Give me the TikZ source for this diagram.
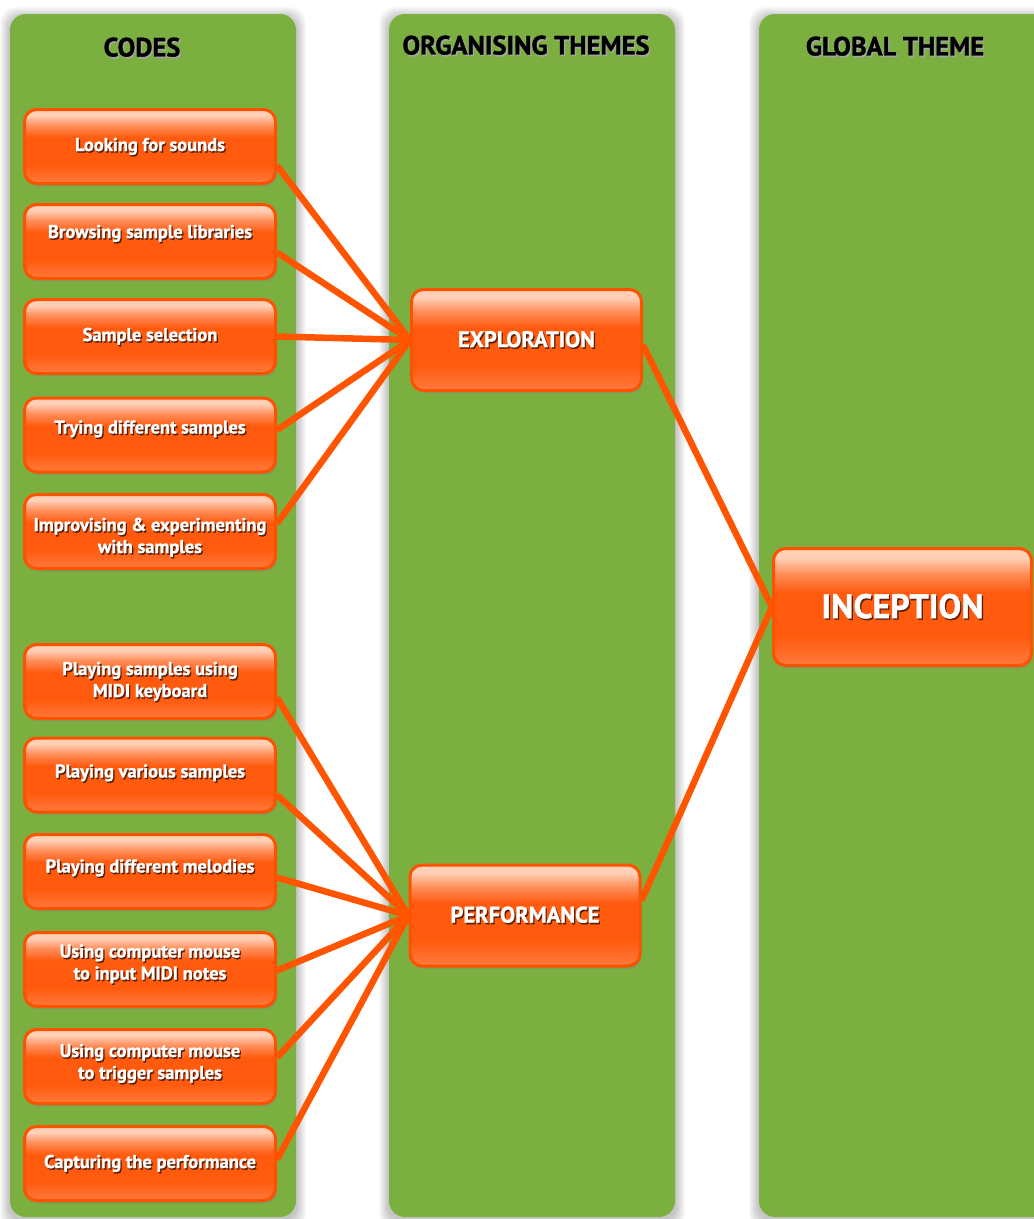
\documentclass[tikz,border=0pt]{standalone}
\usepackage{fontspec}
\setmainfont{PT Sans}[BoldFeatures={FakeBold=1.2}]
\usetikzlibrary{shadows,calc}
\definecolor{colgreen}{HTML}{7BB041}
\definecolor{lineor}{HTML}{FF5400}
\definecolor{rimor}{HTML}{FF5200}
\definecolor{obot}{HTML}{FF7A3C}
\definecolor{omid}{HTML}{FF5A0E}
\definecolor{ohiA}{HTML}{FF8C58}
\definecolor{ohi}{HTML}{FFCFB6}
\definecolor{txtshade}{HTML}{5A2208}
\pgfdeclareverticalshading{glossy}{100bp}{color(0bp)=(obot); color(25bp)=(obot); color(38bp)=(omid); color(56bp)=(omid); color(64bp)=(ohiA); color(71bp)=(ohi); color(75bp)=(ohi); color(100bp)=(ohi)}
\newcommand\shd[2][txtshade]{\leavevmode\rlap{\kern1.3pt\raisebox{-1.6pt}{\textcolor{#1}{#2}}}#2}
\pgfdeclarelayer{panels}
\pgfdeclarelayer{links}
\pgfsetlayers{panels,links,main}
\tikzset{
  panel/.style={fill=colgreen, rounded corners=16pt},
  hdr/.style={font=\bfseries\fontsize{26.5}{30}\selectfont, text=black, inner sep=0pt},
  glossbox/.style={draw=rimor, line width=3pt, rounded corners=12pt, shading=glossy, text=white, align=center,
    drop shadow={opacity=0.35, shadow xshift=1.5pt, shadow yshift=-3pt}},
  codebox/.style={glossbox, minimum width=251pt, minimum height=74pt, inner sep=0pt,
    text height=14pt, text depth=5pt, font=\bfseries\fontsize{18.5}{22}\selectfont},
  twoline/.style={text height=36pt},
  themebox/.style={glossbox, minimum width=230pt, minimum height=101pt, inner sep=0pt,
    font=\bfseries\fontsize{22.5}{26}\selectfont},
  globalbox/.style={glossbox, minimum width=258pt, minimum height=117pt, inner sep=0pt,
    font=\bfseries\fontsize{34}{38}\selectfont},
  conn/.style={draw=lineor, line width=6.5pt},
}
\newcommand\softpanel[4]{%
  \foreach \i in {1,...,10}{%
    \fill[black, opacity=0.022, rounded corners=16pt] (#1-\i,#2-\i+3) rectangle (#3+\i,#4+\i+3);}%
  \fill[panel] (#1,#2) rectangle (#3,#4);}
\begin{document}
\begin{tikzpicture}[x=1pt,y=-1pt]
\useasboundingbox (0,0) rectangle (1034,1219);
\clip (0,0) rectangle (1034,1219);
\begin{pgfonlayer}{panels}
  \fill[white] (0,0) rectangle (1034,1219);
  \softpanel{10}{14}{296}{1217}
  \softpanel{389}{14}{675}{1217}
  \softpanel{759}{14}{1049}{1217}
\end{pgfonlayer}

% headers
\node[hdr] (hcodes) at (142,48) {\shd[black!35]{CODES}};
\node[hdr] (horg) at (526,46) {\shd[black!35]{ORGANISING THEMES}};
\node[hdr] (hglob) at (895,47) {\shd[black!35]{GLOBAL THEME}};

% codes
\node[codebox] (b1) at (150,146.5) {\shd{Looking for sounds}};
\node[codebox, text depth=21pt] (b2) at (150,241.5) {\shd{Browsing sample libraries}};
\node[codebox] (b3) at (150,336.5) {\shd{Sample selection}};
\node[codebox, text depth=17pt] (b4) at (150,435) {\shd{Trying different samples}};
\node[codebox, text height=48pt] (b5) at (150,531.5) {\shd{Improvising \& experimenting}\\\shd{with samples}};
\node[codebox, twoline] (b6) at (150,681.5) {\shd{Playing samples using}\\\shd{MIDI keyboard}};
\node[codebox, text depth=9pt] (b7) at (150,775) {\shd{Playing various samples}};
\node[codebox, text depth=12pt] (b8) at (150,871.5) {\shd{Playing different melodies}};
\node[codebox, twoline, text depth=16pt] (b9) at (150,969.5) {\shd{Using computer mouse}\\\shd{to input MIDI notes}};
\node[codebox, twoline, text depth=11pt] (b10) at (150,1066.5) {\shd{Using computer mouse}\\\shd{to trigger samples}};
\node[codebox] (b11) at (150,1163.5) {\shd{Capturing the performance}};

% themes
\node[themebox] (expl) at (526.5,340) {\shd{EXPLORATION}};
\node[themebox] (perf) at (525,915.5) {\shd{PERFORMANCE}};
\node[globalbox] (inc) at (902.5,607) {\shd{INCEPTION}};

\begin{pgfonlayer}{links}
  \draw[conn] ($(b1.east)+(0,19)$) -- (expl.west);
  \draw[conn] ($(b2.east)+(0,11)$) -- (expl.west);
  \draw[conn] (b3.east) -- (expl.west);
  \draw[conn] ($(b4.east)+(0,-5)$) -- (expl.west);
  \draw[conn] ($(b5.east)+(0,-8)$) -- (expl.west);
  \draw[conn] ($(b6.east)+(0,16)$) -- (perf.west);
  \draw[conn] ($(b7.east)+(0,20)$) -- (perf.west);
  \draw[conn] ($(b8.east)+(0,6)$) -- (perf.west);
  \draw[conn] ($(b9.east)+(0,1)$) -- (perf.west);
  \draw[conn] ($(b10.east)+(0,-9)$) -- (perf.west);
  \draw[conn] ($(b11.east)+(0,-4)$) -- (perf.west);
  \draw[conn] ($(expl.east)+(0,5)$) -- (inc.west);
  \draw[conn] ($(perf.east)+(0,-15)$) -- (inc.west);
\end{pgfonlayer}
\end{tikzpicture}
\end{document}
